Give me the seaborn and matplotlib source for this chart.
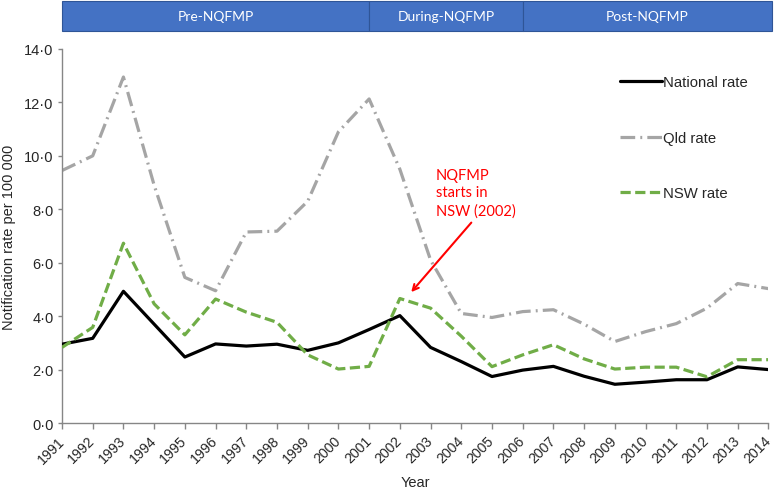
import pandas as pd
import matplotlib.pyplot as plt
import matplotlib.transforms as mtransforms
from matplotlib.patches import Rectangle
import seaborn as sns

# data
years = list(range(1991, 2015))
national = [2.95, 3.17, 4.93, 3.7, 2.47, 2.96, 2.88, 2.95, 2.72, 3.0, 3.5, 4.02,
            2.83, 2.3, 1.74, 1.98, 2.12, 1.75, 1.45, 1.53, 1.62, 1.62, 2.1, 2.0]
qld = [9.45, 10.0, 12.95, 8.9, 5.45, 4.95, 7.15, 7.18, 8.3, 10.9, 12.13, 9.5,
       6.1, 4.1, 3.95, 4.17, 4.24, 3.7, 3.05, 3.42, 3.72, 4.3, 5.22, 5.03]
nsw = [2.83, 3.58, 6.73, 4.46, 3.3, 4.64, 4.15, 3.77, 2.55, 2.02, 2.12, 4.66,
       4.3, 3.25, 2.11, 2.55, 2.93, 2.4, 2.02, 2.09, 2.09, 1.73, 2.37, 2.37]
series_names = ["National rate", "Qld rate", "NSW rate"]

periods = ["Pre-NQFMP", "During-NQFMP", "Post-NQFMP"]
period_edges = [1991, 2001, 2006, 2014.13]

sns.set_theme(style="white")
plt.rcParams['font.family'] = ['Liberation Sans', 'DejaVu Sans']

df = pd.DataFrame({"Year": years * 3,
                   "Rate": national + qld + nsw,
                   "Series": [s for s in series_names for _ in years]})

fig = plt.figure(figsize=(7.75, 4.89), dpi=100)
ax = fig.add_axes([0.080, 0.1329, 0.9115, 0.7649])

colors = {"National rate": "black", "Qld rate": "#A5A5A5", "NSW rate": "#70AD47"}
patterns = {"National rate": None, "Qld rate": (4.6, 1.6, 0.6, 1.6), "NSW rate": (3.2, 1.4)}
zorders = {"National rate": 3, "Qld rate": 2, "NSW rate": 4}

for name in series_names:
    sub = df[df["Series"] == name]
    sns.lineplot(data=sub, x="Year", y="Rate", ax=ax, color=colors[name],
                 lw=2.3, label=name, zorder=zorders[name])
    line = ax.lines[-1]
    if patterns[name] is not None:
        line.set_linestyle((0, patterns[name]))

ax.set_xlim(1991, 2014)
ax.set_ylim(0, 14)
ax.set_xticks(years)
ax.set_xticklabels([str(y) for y in years], rotation=45, ha="right", va="center",
                   rotation_mode="anchor", fontsize=10.2)
yt = [0, 2, 4, 6, 8, 10, 12, 14]
ax.set_yticks(yt)
ax.set_yticklabels([f"{v:.1f}".replace(".", "\u00b7") for v in yt], fontsize=10.5)

for side in ["top", "right"]:
    ax.spines[side].set_visible(False)
for side in ["left", "bottom"]:
    ax.spines[side].set_color("#868686")
    ax.spines[side].set_linewidth(1.0)
ax.tick_params(axis="y", direction="out", length=3, width=1, color="#868686",
               left=True, pad=3)
ax.tick_params(axis="x", direction="out", length=4, width=1, color="#868686",
               bottom=True, pad=7)

ax.set_xlabel("Year", fontsize=10.5, labelpad=7)
ax.set_ylabel("Notification rate per 100 000", fontsize=10.5, labelpad=6)

leg = ax.legend(loc="upper left", bbox_to_anchor=(0.79, 0.93), frameon=False,
                fontsize=10.7, labelspacing=2.8, handlelength=2.8,
                handletextpad=0.1, borderpad=0, borderaxespad=0)

# period header bar
trans = mtransforms.blended_transform_factory(ax.transData, ax.transAxes)
for i, name in enumerate(periods):
    x0, x1 = period_edges[i], period_edges[i + 1]
    ax.add_patch(Rectangle((x0, 1.048), x1 - x0, 0.08, transform=trans,
                           facecolor="#4472C4", edgecolor="#2F5597", lw=0.8,
                           clip_on=False))
    ax.text((x0 + x1) / 2, 1.088, name, transform=trans, ha="center", va="center",
            color="white", fontsize=10, family=["Lato", "DejaVu Sans"])

# annotation
ax.annotate("NQFMP\nstarts in\nNSW (2002)", xy=(2002.37, 4.9), xytext=(2003.18, 8.62),
            ha="left", va="center", color="red", fontsize=10.5,
            family=["Lato", "DejaVu Sans"], linespacing=1.3,
            arrowprops=dict(arrowstyle="->", color="red", lw=1.5,
                            shrinkA=2, shrinkB=0,
                            relpos=(0.5, 0.0)))

fig.savefig("out.png", dpi=100)
